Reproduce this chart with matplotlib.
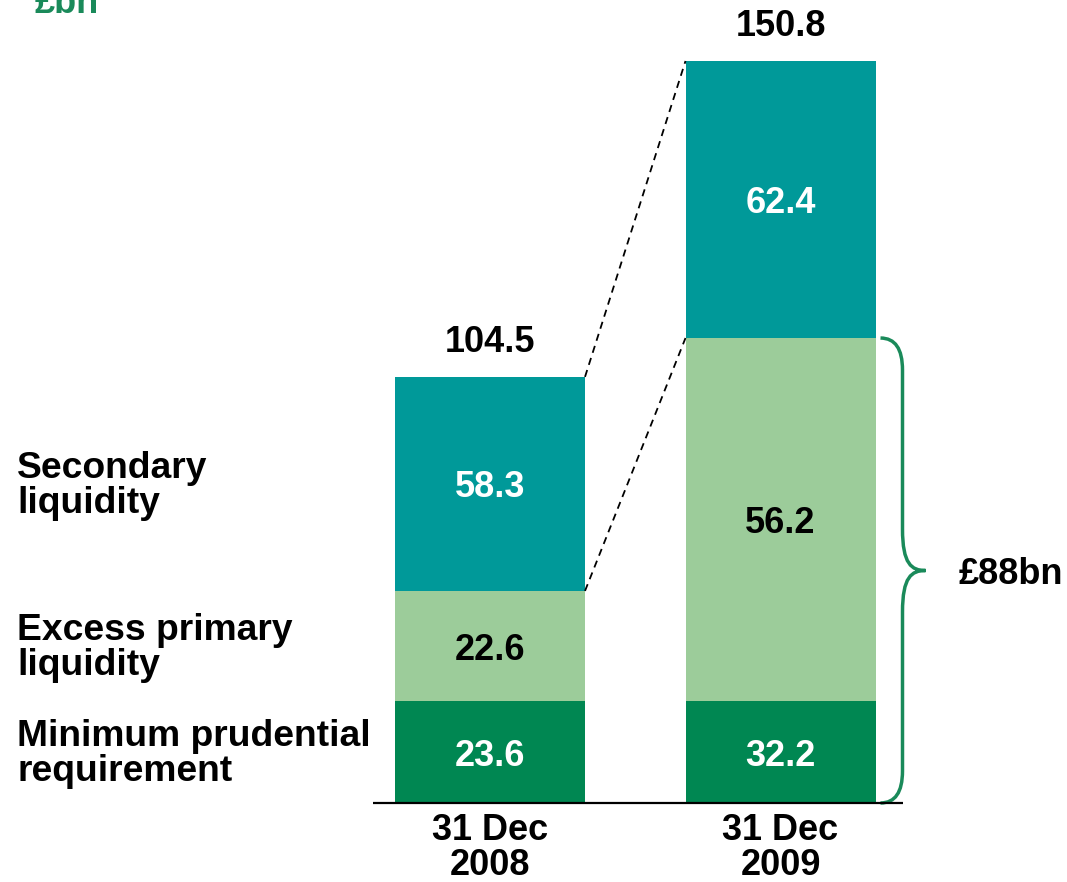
import matplotlib
matplotlib.use("Agg")
import matplotlib.pyplot as plt
from matplotlib.path import Path
from matplotlib.patches import PathPatch

plt.rcParams['font.family'] = ['Liberation Sans', 'DejaVu Sans']
plt.rcParams['font.weight'] = 'bold'

# ---- data ----
periods = ["31 Dec\n2008", "31 Dec\n2009"]
series = ["Minimum prudential\nrequirement", "Excess primary\nliquidity", "Secondary\nliquidity"]
min_prudential = [23.6, 32.2]
excess_primary = [22.6, 56.2]
secondary = [58.3, 62.4]
totals = [104.5, 150.8]
bracket_label = "£88bn"
unit_label = "£bn"
# chart is schematic: segment heights as drawn in the picture (2009 total scaled to 150.8)
drawn_min = [20.7, 20.7]
drawn_excess = [22.4, 73.8]
drawn_secondary = [43.5, 56.3]

colors = ["#008752", "#9ccc9a", "#009999"]
text_colors = ["white", "black", "white"]

W, H = 1067, 882
fig = plt.figure(figsize=(W / 100, H / 100), dpi=100)
ax = fig.add_axes([0, 0, 1, 1])
ax.axis('off')

# scale: baseline at pixel 803, 150.8 at pixel 61
ppu = (803 - 61) / 150.8
ax.set_ylim(-(H - 803) / ppu, 803 / ppu)
pxx = 290.5
ax.set_xlim(-490 / pxx, (W - 490) / pxx)
bw = 190 / pxx

x = [0, 1]
layers = [(min_prudential, drawn_min), (excess_primary, drawn_excess), (secondary, drawn_secondary)]
bottoms = [0.0, 0.0]
FS = 26
for li, (vals, hts) in enumerate(layers):
    ax.bar(x, hts, bw, bottom=bottoms, color=colors[li], linewidth=0)
    for i in range(2):
        ax.text(x[i], bottoms[i] + hts[i] / 2, f"{vals[i]:.1f}", ha='center', va='center_baseline',
                color=text_colors[li], fontsize=FS, fontweight='bold')
    bottoms = [bottoms[i] + hts[i] for i in range(2)]

# totals
for i in range(2):
    ax.text(x[i], bottoms[i] + 38 / ppu, f"{totals[i]:.1f}", ha='center', va='center_baseline',
            fontsize=FS, fontweight='bold', color='black')

# period labels
for i in range(2):
    ax.text(x[i], -45 / ppu, periods[i], ha='center', va='center', fontsize=FS,
            fontweight='bold', linespacing=1.0)

# baseline
ax.plot([-117 / pxx, 413 / pxx], [0, 0], color='black', lw=1.6, solid_capstyle='butt')

# dashed connectors
top08 = bottoms[0]
top09 = bottoms[1]
ex08 = drawn_min[0] + drawn_excess[0]
ex09 = drawn_min[1] + drawn_excess[1]
ax.plot([x[0] + bw / 2, x[1] - bw / 2], [top08, top09], ls=(0, (4, 3)), color='black', lw=1.3)
ax.plot([x[0] + bw / 2, x[1] - bw / 2], [ex08, ex09], ls=(0, (4, 3)), color='black', lw=1.3)

# left series labels aligned with 2008 segment centres
lx = -473 / pxx
cums = [0, drawn_min[0], drawn_min[0] + drawn_excess[0]]
hts08 = [drawn_min[0], drawn_excess[0], drawn_secondary[0]]
for li in range(3):
    ax.text(lx, cums[li] + hts08[li] / 2 - 0.4, series[li], ha='left', va='center', fontsize=26.8,
            fontweight='bold', linespacing=1.02)

# brace
bx0 = x[1] + bw / 2 + 5 / pxx
bx1 = bx0 + 22 / pxx
btip = bx0 + 45 / pxx
y0, y1 = 0, ex09
ym = (y0 + y1) / 2
c = 32 / ppu
verts = [(bx0, y1), (bx1, y1), (bx1, y1 - c),
         (bx1, ym + 1.3 * c),
         (bx1, ym + 0.2 * c), (btip - 14 / pxx, ym), (btip, ym),
         (btip - 14 / pxx, ym), (bx1, ym - 0.2 * c), (bx1, ym - 1.3 * c),
         (bx1, y0 + c),
         (bx1, y0), (bx0, y0)]
codes = [Path.MOVETO, Path.CURVE3, Path.CURVE3,
         Path.LINETO,
         Path.CURVE4, Path.CURVE4, Path.CURVE4,
         Path.CURVE4, Path.CURVE4, Path.CURVE4,
         Path.LINETO,
         Path.CURVE3, Path.CURVE3]
ax.add_patch(PathPatch(Path(verts, codes), fill=False, edgecolor='#1a8a5a', lw=2.5))
ax.text(btip + 33 / pxx, ym, bracket_label, ha='left', va='center_baseline', fontsize=FS, fontweight='bold')

# unit label (partly cut at top, as in the source)
fig.text(35 / W, 1 - 13 / H, unit_label, ha='left', va='baseline', fontsize=FS,
         fontweight='bold', color='#1a8a5a')

fig.savefig("out.png", dpi=100)
